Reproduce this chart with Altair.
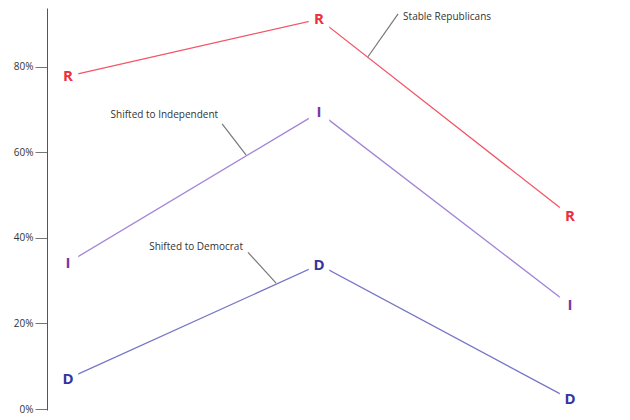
import altair as alt
import pandas as pd

# ---- data ----
waves = [0, 1, 2]
series = ["Republican", "Independent", "Democrat"]
letters = ["R", "I", "D"]
rep = [77.8, 91.1, 45.2]
ind = [34.2, 69.3, 24.3]
dem = [7.1, 33.7, 2.3]
values = [rep, ind, dem]

letter_colors = ["#ee2e40", "#7a38a8", "#3535a0"]
line_colors = ["#f25566", "#a385d6", "#7676c6"]

ann_text = ["Stable Republicans", "Shifted to Independent", "Shifted to Democrat"]
ann_x = [1.335, 0.598, 0.697]
ann_y = [91.6, 68.6, 37.8]
ann_align = ["left", "right", "right"]
lead_x = [1.315, 0.614, 0.717]
lead_y = [92.3, 66.6, 36.6]
lead_x2 = [1.195, 0.709, 0.829]
lead_y2 = [82.3, 59.4, 29.4]

y_ticks = [0, 20, 40, 60, 80]

rows = []
for s, l, vals in zip(series, letters, values):
    for w, v in zip(waves, vals):
        rows.append({"series": s, "letter": l, "wave": w, "pct": v})
df = pd.DataFrame(rows)

ann = pd.DataFrame({"text": ann_text, "x": ann_x, "y": ann_y, "align": ann_align})
lead = pd.DataFrame({"x": lead_x, "y": lead_y, "x2": lead_x2, "y2": lead_y2})

xs = alt.Scale(domain=[-0.0837, 2.207], nice=False, zero=False)
ys = alt.Scale(domain=[-0.23, 93.69], nice=False, zero=False)

y_axis = alt.Axis(values=y_ticks, labelExpr="datum.value + '%'", tickSize=12,
                  domainColor="#555", tickColor="#777", labelFontSize=10,
                  labelColor="#333", labelFont="Open Sans", grid=False, title=None,
                  labelPadding=2, domainWidth=1, tickWidth=1)


def X(f):
    return alt.X(f, scale=xs, axis=None)


def Y(f):
    return alt.Y(f, scale=ys, axis=y_axis)


lines = alt.Chart(df).mark_line(strokeWidth=1.3).encode(
    x=X("wave:Q"), y=Y("pct:Q"),
    stroke=alt.Stroke("series:N", scale=alt.Scale(domain=series, range=line_colors), legend=None),
    detail="series:N",
)

gaps = alt.Chart(df).mark_square(size=420, color="white", opacity=1, filled=True).encode(
    x=X("wave:Q"), y=Y("pct:Q")
)

labels = alt.Chart(df).mark_text(fontSize=15, fontWeight="bold", font="Open Sans",
                                 baseline="middle", align="center").encode(
    x=X("wave:Q"), y=Y("pct:Q"),
    text="letter:N",
    fill=alt.Fill("series:N", scale=alt.Scale(domain=series, range=letter_colors), legend=None),
)

leaders = alt.Chart(lead).mark_rule(color="#777", strokeWidth=1.2).encode(
    x=X("x:Q"), x2="x2:Q", y=Y("y:Q"), y2="y2:Q",
)

ann_left = alt.Chart(ann[ann["align"] == "left"]).mark_text(
    align="left", baseline="middle", fontSize=10, font="Open Sans", color="#333").encode(
    x=X("x:Q"), y=Y("y:Q"), text="text:N")
ann_right = alt.Chart(ann[ann["align"] == "right"]).mark_text(
    align="right", baseline="middle", fontSize=10, font="Open Sans", color="#333").encode(
    x=X("x:Q"), y=Y("y:Q"), text="text:N")

chart = alt.layer(lines, leaders, gaps, labels, ann_left, ann_right).resolve_scale(
    stroke="independent", fill="independent"
).properties(
    width=575, height=402,
    autosize=alt.AutoSizeParams(type="none"),
    padding={"left": 39, "top": 0, "right": 0, "bottom": 8},
).configure_view(stroke=None)

chart.save("out.html", embed_options={"renderer": "svg", "actions": False})
